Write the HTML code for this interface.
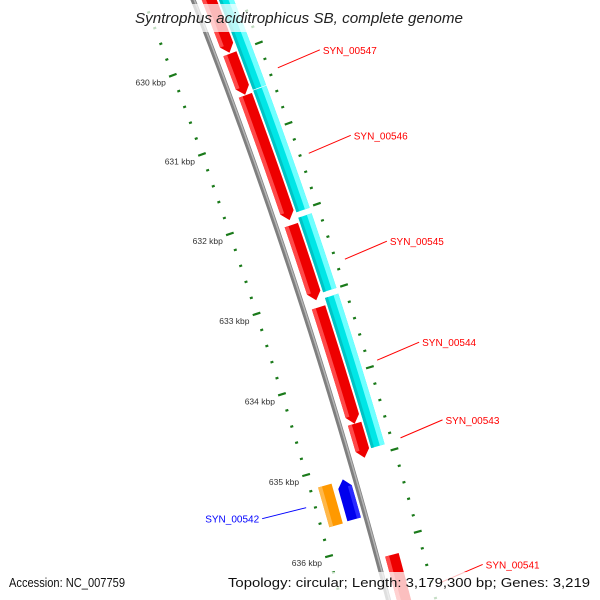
<!DOCTYPE html>
<html><head><meta charset="utf-8"><style>
html,body{margin:0;padding:0;background:#fff;width:600px;height:600px;overflow:hidden}
svg{display:block;overflow:hidden}
text{font-family:"Liberation Sans",sans-serif}
</style></head><body>
<svg id="map" width="600" height="600" viewBox="0 0 600 600" xmlns="http://www.w3.org/2000/svg"></svg>
<script>
// ---- data (bp) ----
const tickStart = 629200;
const tickEnd = 637000;
const tickStep = 200;
const majorStep = 1000;
const fwdStarts = [629200, 630000, 630520, 632135, 633152, 634581, 636180];
const fwdEnds   = [629987, 630513, 632073, 633065, 634581, 634998, 636950];
const cyanStarts = [629200, 630500, 632080, 633070];
const cyanEnds   = [630490, 632012, 633000, 634911];
const revStarts = [635170];
const revEnds   = [635660];
const orangeStarts = [635182];
const orangeEnds   = [635671];
const fwdLabels = ["SYN_00547","SYN_00546","SYN_00545","SYN_00544","SYN_00543","SYN_00541"];
const fwdLabelBp = [630350, 631409, 632712, 633947, 634892, 636639];
const revLabels = ["SYN_00542"];
const revLabelBp = [635373];

// ---- geometry ----
const CX = -4902, CY = 1990, R0 = 5470;
const A0 = 18 * Math.PI / 180, K = 0.8904 * Math.PI / 180 / 1000, BP0 = 633000;
function ang(bp){ return A0 - (bp - BP0) * K; }
function pos(bp, off){ const a = ang(bp), r = R0 + off; return [CX + r*Math.cos(a), CY - r*Math.sin(a)]; }
const svg = document.getElementById('map');
const NS = 'http://www.w3.org/2000/svg';
function mk(tag, attrs, parent){ const e = document.createElementNS(NS, tag); for (const k in attrs) e.setAttribute(k, attrs[k]); (parent||svg).appendChild(e); return e; }
function arcPts(b1, b2, off){ const pts = []; const n = Math.max(2, Math.ceil(Math.abs(b2-b1)/50)); for (let i=0;i<=n;i++){ pts.push(pos(b1+(b2-b1)*i/n, off)); } return pts; }
function band(b1, b2, o1, o2, fill, arrow, parent){
  const head = 95, mid = (o1+o2)/2;
  let s = b1, e = b2;
  if (arrow === 1) e = Math.max(b1, b2 - head);
  if (arrow === -1) s = Math.min(b2, b1 + head);
  let pts = arcPts(s, e, o1);
  if (arrow === 1) pts.push(pos(b2, mid));
  pts = pts.concat(arcPts(e, s, o2));
  if (arrow === -1) pts.push(pos(b1, mid));
  return mk('polygon', {points: pts.map(p=>p[0].toFixed(2)+','+p[1].toFixed(2)).join(' '), fill: fill}, parent);
}

// backbone
const bb = mk('polyline', {points: arcPts(629200, 636800, 0).map(p=>p.join(',')).join(' '), fill:'none', stroke:'#7f7f7f', 'stroke-width':5});


const bb2 = mk('polyline', {points: arcPts(629200, 636800, 1).map(p=>p.join(',')).join(' '), fill:'none', stroke:'#b5b5b5', 'stroke-width':1.5});



// ticks on both rings
for (let bp = tickStart; bp <= tickEnd; bp += tickStep) {
  const major = bp % majorStep === 0;
  [-46, 46].forEach(r => {
    const h = major ? 4 : 1.5;
    const p1 = pos(bp, r-h), p2 = pos(bp, r+h);
    if (p1[1] < -5 || p1[1] > 605) return;
    const t = mk('line', {x1:p1[0], y1:p1[1], x2:p2[0], y2:p2[1], stroke:'#1a7a1a', 'stroke-width': 2.2});
    
    
  });
  if (major) {
    const p = pos(bp, -46);
    if (p[1] > 20 && p[1] < 590) {
      const lb = mk('text', {x: p[0]-7, y: p[1]+10, 'text-anchor':'end', 'font-size':'8.5', fill:'#333'});
      lb.textContent = (bp/1000) + ' kbp';
      
      
    }
  }
}

// cyan track
for (let i=0;i<cyanStarts.length;i++){
  const g = mk('g', {});
  
  
  band(cyanStarts[i], cyanEnds[i], 24, 38, '#00e6e6', 0, g);
  band(cyanStarts[i], cyanEnds[i], 24, 27, '#00c4c4', 0, g);
  band(cyanStarts[i], cyanEnds[i], 33, 38, '#70ffff', 0, g);
}
// forward genes (red)
for (let i=0;i<fwdStarts.length;i++){
  const g = mk('g', {});
  
  
  band(fwdStarts[i], fwdEnds[i], 8, 22, '#ee0000', 1, g);
  band(fwdStarts[i], fwdEnds[i]-95, 8, 12, '#ff4a4a', 0, g);
}
// orange
for (let i=0;i<orangeStarts.length;i++){
  const g = mk('g', {});
  
  
  band(orangeStarts[i], orangeEnds[i], -38, -24, '#ff9900', 0, g);
  band(orangeStarts[i], orangeEnds[i], -38, -34, '#ffb84a', 0, g);
}
// reverse genes (blue)
for (let i=0;i<revStarts.length;i++){
  const g = mk('g', {});
  
  
  band(revStarts[i], revEnds[i], -19, -5, '#0000ee', -1, g);
  band(revStarts[i]+95, revEnds[i], -9, -5, '#2a2aff', 0, g);
}
// labels
for (let i=0;i<fwdLabels.length;i++){
  const p = pos(fwdLabelBp[i], 55);
  const ex = p[0]+42, ey = p[1]-18;
  const l = mk('line', {x1:p[0], y1:p[1], x2:ex, y2:ey, stroke:'#ff0000', 'stroke-width':1});
  
  
  const t = mk('text', {x:ex+3, y:ey+4, 'font-size':'10', fill:'#ff0000'});
  t.textContent = fwdLabels[i];
  
  
}
for (let i=0;i<revLabels.length;i++){
  const p = pos(revLabelBp[i], -55);
  const ex = p[0]-44, ey = p[1]+11;
  const l = mk('line', {x1:p[0], y1:p[1], x2:ex, y2:ey, stroke:'#0000ff', 'stroke-width':1});
  
  
  const t = mk('text', {x:ex-3, y:ey+4, 'font-size':'10', fill:'#0000ff', 'text-anchor':'end'});
  t.textContent = revLabels[i];
  
  
}
// title & footer
const tb = mk('rect', {x:128, y:4, width:344, height:28, fill:'#fff', 'fill-opacity':0.72});


const tt = mk('text', {x:135, y:23, 'font-size':'15', 'font-style':'italic', fill:'#222', textLength:'328', lengthAdjust:'spacingAndGlyphs'});
tt.textContent = 'Syntrophus aciditrophicus SB, complete genome';


const fb = mk('rect', {x:0, y:572, width:600, height:28, fill:'#fff', 'fill-opacity':0.75});


const f1 = mk('text', {x:9, y:587, 'font-size':'13', fill:'#111', textLength:'116', lengthAdjust:'spacingAndGlyphs'});
f1.textContent = 'Accession: NC_007759';


const f2 = mk('text', {x:228, y:587, 'font-size':'13', fill:'#111', textLength:'362', lengthAdjust:'spacingAndGlyphs'});
f2.textContent = 'Topology: circular; Length: 3,179,300 bp; Genes: 3,219';


</script>
</body></html>
